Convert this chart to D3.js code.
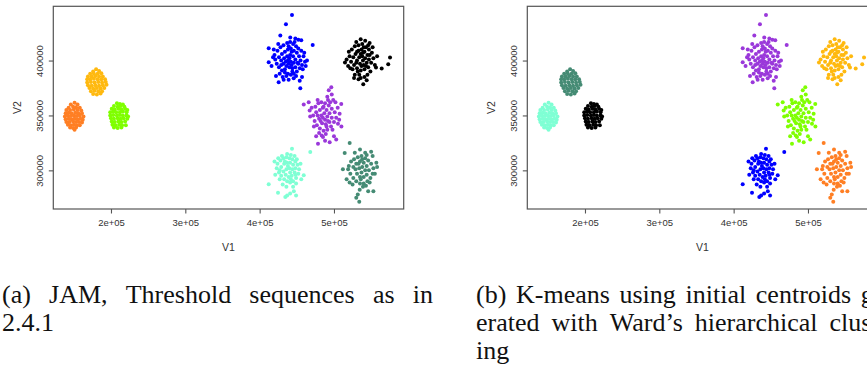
<!DOCTYPE html>
<html>
<head>
<meta charset="utf-8">
<script src="https://cdn.jsdelivr.net/npm/d3@7"></script>
<style>
  body { margin: 0; background: #fff; }
  svg { display: block; }
  .tick-label { font-family: "Liberation Sans", Arial, sans-serif; font-size: 9.5px; fill: #333; }
  .axis-title { font-family: "Liberation Sans", Arial, sans-serif; font-size: 10.5px; fill: #333; }
  .caption { font-family: "Liberation Serif", "Times New Roman", serif; font-size: 26px; fill: #111; }
</style>
</head>
<body>
<div id="figure"></div>
<script>
// Data (values in thousands), same points in both panels, only colouring differs
const clusterA = [ // blob at (150k, 350k)
  [151,361.5],[146,360],[155,360],[149,358],[153,357.5],[143,357],[158,357],
  [140,355],[145,355],[150,355.5],[155,355],[160,354.5],
  [139,352],[143,352.5],[147,352],[152,352.5],[156,352],[161,352],
  [138,349],[142,350],[146,349.5],[150,350],[154,349.5],[158,350],[163,349],
  [139,346.5],[143,347],[147,346.5],[151,347],[155,346.5],[159,347],[162,346],
  [140,344],[144,344],[149,344.5],[153,344],[157,344],[161,343.5],
  [142,341.5],[146,341],[150,341.5],[154,341],[158,341],
  [145,339],[149,338.5],[153,339],[151,337]
];
const clusterB = [ // blob at (180k, 380k)
  [180,392],[176,390],[184,390.5],[172,388],[177,388],[182,388],[187,388.5],
  [169,385.5],[174,385.5],[179,386],[184,385.5],[189,385.5],
  [168,383],[172,383],[177,383.5],[182,383],[187,383],[192,383],
  [168,380],[173,380.5],[178,380],[183,380.5],[188,380],[193,380.5],
  [169,377.5],[174,377],[179,377.5],[184,377],[189,377.5],[194,378],
  [171,375],[176,374.5],[181,375],[186,374.5],[191,375],
  [173,372],[178,372.5],[183,372],[188,372],[176,369.5],[181,369],[186,370]
];
const clusterC = [ // blob at (210k, 350k)
  [208,361],[212,360.5],[216,360],[204,358.5],[209,358],[213,358.5],[218,358],
  [201,356],[205,355.5],[210,356],[214,355.5],[219,356],[222,355],
  [199,353],[203,353.5],[207,353],[212,353],[216,353.5],[221,353],
  [199,350],[203,350.5],[208,350],[212,350.5],[216,350],[221,350],[223,349],
  [200,347.5],[204,347],[209,347.5],[213,347],[217,347.5],[222,347],
  [201,344.5],[205,344],[210,344.5],[214,344],[219,344.5],
  [202,341.5],[206,341],[211,341.5],[215,341],[220,341],[204,339],[209,338.5],[214,339]
];
const clusterD = [ // (440k, 400k)
  [443.5,441.5],[435.4,433],[427.8,422.7],[441.2,420.9],[448,420],[456,418.5],[412.2,411.2],[471.4,414.2],
  [463.7,400],[412.2,398.5],[425.6,380.3],[432.3,382.4],[439,382.4],[445.8,383.9],[453.9,381.5],[454.7,374.8],
  [420,405],[424,409],[428,412],[432,414],[437,416],[441,417],[445,415],[449,413],[452,411],[456,409],
  [459,404],[461,399],[457,396],[454,393],[450,390],[446,388],[442,387],[438,388],[434,389],[430,391],
  [426,394],[423,397],[421,401],[418,403],[426,403],[430,406],[434,408],[438,410],[442,411],[446,409],
  [450,407],[453,404],[455,400],[452,397],[448,394],[444,393],[440,394],[436,395],[432,397],[429,400],
  [433,402],[437,404],[441,405],[445,404],[448,401],[446,398],[442,399],[438,400],[435,399],[440,402],
  [443,396],[439,397],[444,390],[449,386],[436,386],[431,385],[427,388],[458,392],[460,407],[416,395],
  [419,410],[447,417],[443,408],[451,398],[429,396],[434,392],[457,385],[422,386],[462,395],[425,415],
  [452,419],[439,413]
];
const clusterE = [ // (540k, 400k)
  [535.9,419.4],[530,417],[542,418],[548,416],[575.4,402.7],[573,396.6],[564.2,392.7],[556.5,393.6],
  [514.8,398.2],[539.4,378.5],[533,383],[528,387],[541,385],
  [524,410],[528,413],[533,414],[538,415],[543,412],[547,410],[551,407],[553,402],[550,398],[546,394],
  [541,392],[536,391],[531,393],[527,396],[523,399],[521,404],[529,406],[533,409],[537,410],[541,408],
  [545,405],[547,401],[544,398],[540,396],[535,397],[531,400],[534,403],[538,404],[542,402],[539,400],
  [536,406],[540,412],[519,395],[525,392],[520,408],[552,412],[555,396],[549,390],[534,387],[545,387],
  [526,403],[530,398],[543,395],[548,405],[537,395],[532,390],[517,401],[558,404],[522,393],[546,414],
  [536,384],[544,382],[527,384],[531,408],[539,407]
];
const clusterF = [ // (490k, 350k)
  [459.3,360],[496.4,375.7],[493,373],[497,369],[491,367],[492,364],[509.8,360.5],[507.6,351.5],
  [467.3,354.5],[505.4,342.4],[483.5,331.8],[485.2,330.3],[500,331],[503,328],[478.5,324.2],[494.2,325.7],
  [475,358],[479,361],[483,362],[488,361],[493,359],[497,356],[501,353],[503,348],[500,344],[496,340],
  [491,337],[486,336],[481,338],[477,341],[474,345],[472,350],[476,353],[481,355],[485,357],[490,355],
  [494,352],[497,348],[494,344],[489,342],[484,343],[480,347],[478,350],[483,350],[487,352],[491,349],
  [488,346],[485,348],[492,345],[486,358],[482,345],[470,357],[478,364],[499,364],[505,357],[507,346],
  [498,337],[489,333],[480,334],[473,340],[468,349],[490,340],[495,362],[476,331],[488,327],[510,340],
  [466,362],[502,362]
];
const clusterG = [ // (440k, 300k)
  [443.5,319.6],[468.1,316.6],[437,315],[442,314],[412.2,287.3],[459.3,295.5],[424.7,279.6],[434.5,275.7],
  [437,277],[441,279],[446,281],[449,277],[445,285],[449,288],
  [424,306],[428,309],[432,311],[436,312],[440,311],[444,310],[448,308],[451,305],[453,301],[452,297],
  [449,293],[445,290],[441,289],[437,290],[433,292],[429,295],[426,298],[423,302],[429,303],[433,306],
  [437,307],[441,307],[445,305],[448,302],[447,298],[443,295],[439,294],[435,296],[432,299],[436,301],
  [440,302],[444,301],[441,298],[438,304],[420,308],[421,296],[427,292],[431,287],[436,285],[455,306],
  [456,292],[430,313],[447,313],[450,310],[427,300],[434,308],[442,292],[448,296],[425,311]
];
const clusterH = [ // (540k, 300k)
  [521.1,324.8],[514.4,315.7],[535,319],[542,316],[550,317],[552,313],[557,307],[534.6,282.4],
  [546,281],[553,281],[532,278],[530,275],[534,271.5],
  [520,304],[523,308],[527,310],[532,312],[537,313],[542,311],[546,309],[550,306],[553,302],[552,297],
  [549,293],[545,290],[540,288],[535,288],[530,290],[526,293],[522,297],[519,301],[526,303],[530,306],
  [535,308],[540,307],[544,304],[547,300],[544,296],[540,294],[535,294],[531,297],[529,301],[534,302],
  [538,303],[542,300],[537,298],[533,306],[517,292],[521,289],[538,310],[544,314],[548,289],[555,297],
  [512,301],[528,316],[539,285],[543,286],[525,287],[558,303],[536,292]
];
const clusters = [clusterA, clusterB, clusterC, clusterD, clusterE, clusterF, clusterG, clusterH];

// Colours per cluster, panel (a) JAM and panel (b) K-means
const colorsJam = ['#FF7F24', '#FFB90F', '#7FFF00', '#0000FF', '#000000', '#9A38DA', '#7FFFD4', '#458B74'];
const colorsKmeans = ['#7FFFD4', '#458B74', '#000000', '#9A38DA', '#FFB90F', '#7FFF00', '#0000FF', '#FF7F24'];

// Axis limits and ticks (thousands)
const xLimits = [122.4, 593.8];
const yLimits = [264.8, 449.4];
const xTicks = [200, 300, 400, 500];
const yTicks = [300, 350, 400];

const captionA = [
  {text: '(a) JAM, Threshold sequences as in', justify: true},
  {text: '2.4.1', justify: false}
];
const captionB = [
  {text: '(b) K-means using initial centroids gen-', justify: true},
  {text: 'erated with Ward\u2019s hierarchical cluster-', justify: true},
  {text: 'ing', justify: false}
];

// Layout
const width = 867, height = 373;
const box = {left: 53.3, right: 403.7, top: 6.3, bottom: 209};
const panelShift = 474;
const columnWidth = 431;
const lineBaselines = [303, 331, 359];

const svg = d3.select('#figure').append('svg')
  .attr('width', width)
  .attr('height', height);

const x = d3.scaleLinear().domain(xLimits).range([box.left, box.right]);
const y = d3.scaleLinear().domain(yLimits).range([box.bottom, box.top]);

const drawPanel = (offset, colors, caption) => {
  const g = svg.append('g').attr('transform', `translate(${offset},0)`);

  // points
  clusters.forEach((pts, i) => {
    g.append('g')
      .attr('fill', colors[i])
      .selectAll('circle')
      .data(pts)
      .join('circle')
        .attr('cx', d => x(d[0]))
        .attr('cy', d => y(d[1]))
        .attr('r', 2);
  });

  // frame
  g.append('rect')
    .attr('x', box.left)
    .attr('y', box.top)
    .attr('width', box.right - box.left)
    .attr('height', box.bottom - box.top)
    .attr('fill', 'none')
    .attr('stroke', '#555')
    .attr('stroke-width', 1.2);

  // x axis
  const xAxis = g.append('g')
    .attr('transform', `translate(0,${box.bottom})`)
    .call(d3.axisBottom(x).tickValues(xTicks).tickSize(4.5).tickSizeOuter(0)
      .tickFormat(d => `${d / 100}e+05`));
  xAxis.select('.domain').remove();
  xAxis.selectAll('line').attr('stroke', '#555').attr('stroke-width', 1.1);
  xAxis.selectAll('text').attr('class', 'tick-label').attr('fill', null).attr('y', 10.5);
  xAxis.attr('font-size', null).attr('font-family', null);

  // y axis
  const yAxis = g.append('g')
    .attr('transform', `translate(${box.left},0)`)
    .call(d3.axisLeft(y).tickValues(yTicks).tickSize(4.5).tickSizeOuter(0)
      .tickFormat(d => d3.format('d')(d * 1000)));
  yAxis.select('.domain').remove();
  yAxis.selectAll('line').attr('stroke', '#555').attr('stroke-width', 1.1);
  yAxis.selectAll('text')
    .attr('class', 'tick-label').attr('fill', null)
    .attr('x', null).attr('dy', null)
    .attr('text-anchor', 'middle')
    .attr('transform', 'translate(-10,0) rotate(-90)');
  yAxis.attr('font-size', null).attr('font-family', null);

  // axis titles
  g.append('text')
    .attr('class', 'axis-title')
    .attr('x', (box.left + box.right) / 2)
    .attr('y', 251)
    .attr('text-anchor', 'middle')
    .text('V1');
  g.append('text')
    .attr('class', 'axis-title')
    .attr('transform', `translate(20.5,${(box.top + box.bottom) / 2}) rotate(-90)`)
    .attr('text-anchor', 'middle')
    .text('V2');

  // caption, justified like the LaTeX subcaption
  caption.forEach((line, li) => {
    const words = line.text.split(' ');
    const texts = words.map(w => g.append('text')
      .attr('class', 'caption')
      .attr('y', lineBaselines[li])
      .text(w));
    const widths = texts.map(t => t.node().getComputedTextLength());
    const gap = line.justify && words.length > 1
      ? (columnWidth - d3.sum(widths)) / (words.length - 1)
      : 6.5;
    let cx = 2;
    texts.forEach((t, i) => {
      t.attr('x', cx);
      cx += widths[i] + gap;
    });
  });
};

drawPanel(0, colorsJam, captionA);
drawPanel(panelShift, colorsKmeans, captionB);
</script>
</body>
</html>
